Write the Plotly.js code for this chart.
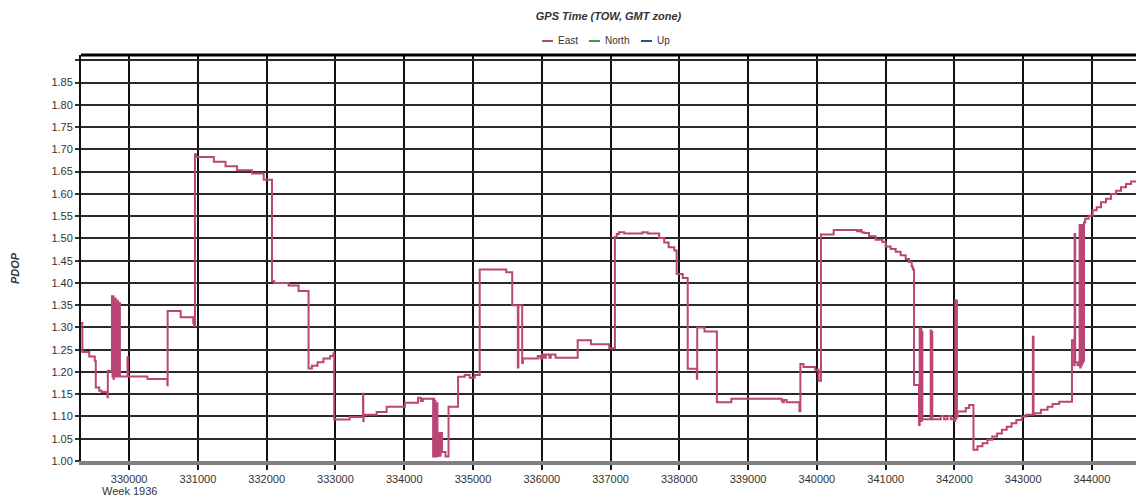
<!DOCTYPE html>
<html>
<head>
<meta charset="utf-8">
<script src="https://cdn.plot.ly/plotly-3.0.1.min.js"></script>
<style>html,body{margin:0;padding:0;background:#fff;}#chart{width:1136px;height:499px;}</style>
</head>
<body>
<div id="chart"></div>
<script>
// GPS time of week (s) and PDOP (step line)
const towSeconds = [
  329300, 329320, 329420, 329500, 329515, 329565, 329600, 329686, 329690,
  329744, 329750, 329758, 329765, 329772, 329780, 329788, 329796, 329804, 329812, 329820, 329828, 329836, 329844, 329852, 329860, 329866,
  329976, 329982, 330266, 330556, 330560, 330749, 330932, 330945, 330957, 330975,
  331232, 331401, 331570, 331787, 331957, 332077, 332110, 332319, 332464, 332609, 332657, 332739, 332826, 332923, 332971, 332981,
  333205, 333400, 333405, 333410, 333599, 333744, 334010, 334200, 334240, 334270, 334348,
  334420, 334428, 334436, 334444, 334452, 334460, 334468, 334476, 334483, 334498, 334520, 334530, 334550, 334600, 334644,
  334783, 334879, 334952, 335024, 335097, 335483, 335570, 335652, 335660, 335715, 335725,
  335942, 335980, 336000, 336030, 336060, 336110, 336130, 336200, 336522, 336715, 336981,
  337063, 337090, 337122, 337200, 337463, 337540, 337707, 337780, 337844, 337927, 337961, 338049, 338122, 338254, 338260,
  338366, 338546, 338756, 339488, 339500, 339520, 339560, 339746, 339760, 339805, 339976, 340024, 340059,
  340244, 340585, 340620, 340650, 340683, 340757, 340854, 340951, 341000, 341073, 341146, 341218, 341291, 341340, 341379, 341395, 341413,
  341485, 341495, 341503, 341511, 341519, 341527, 341534, 341655, 341662, 341670, 341678, 341800, 341850, 341898, 341947,
  342005, 342012, 342020, 342028, 342036, 342044, 342165, 342214, 342277, 342335, 342408,
  342480, 342550, 342620, 342690, 342760, 342830, 342900, 342980, 343040, 343140, 343150, 343160,
  343257, 343354, 343427, 343524, 343709, 343740, 343748, 343756, 343790,
  343820, 343828, 343836, 343844, 343852, 343860, 343868, 343876, 343884, 343900, 343950,
  344010, 344068, 344131, 344204, 344277, 344350, 344422, 344495, 344568, 344640
];
const pdopEast = [
  1.31, 1.245, 1.235, 1.225, 1.165, 1.158, 1.155, 1.143, 1.203,
  1.20, 1.37, 1.19, 1.37, 1.185, 1.365, 1.19, 1.365, 1.19, 1.36, 1.19, 1.36, 1.19, 1.355, 1.19, 1.355, 1.19,
  1.233, 1.19, 1.184, 1.17, 1.337, 1.323, 1.31, 1.303, 1.689, 1.683,
  1.672, 1.662, 1.653, 1.646, 1.632, 1.404, 1.40, 1.394, 1.382, 1.208, 1.214, 1.222, 1.23, 1.236, 1.242, 1.093,
  1.099, 1.151, 1.09, 1.104, 1.11, 1.122, 1.131, 1.142, 1.135, 1.14, 1.14,
  1.01, 1.14, 1.01, 1.135, 1.01, 1.13, 1.01, 1.13, 1.011, 1.063, 1.012, 1.063, 1.02, 1.01, 1.122,
  1.189, 1.193, 1.187, 1.193, 1.43, 1.424, 1.35, 1.21, 1.35, 1.22, 1.23,
  1.236, 1.23, 1.239, 1.232, 1.239, 1.232, 1.239, 1.232, 1.271, 1.262, 1.253,
  1.503, 1.51, 1.514, 1.511, 1.514, 1.511, 1.501, 1.491, 1.48, 1.473, 1.42, 1.411, 1.207, 1.185, 1.30,
  1.291, 1.132, 1.14, 1.136, 1.132, 1.137, 1.132, 1.112, 1.218, 1.211, 1.205, 1.18, 1.509,
  1.519, 1.516, 1.519, 1.514, 1.512, 1.505, 1.497, 1.492, 1.482, 1.476, 1.47, 1.462, 1.454, 1.447, 1.437, 1.43, 1.171,
  1.081, 1.298, 1.09, 1.298, 1.09, 1.29, 1.094, 1.293, 1.094, 1.29, 1.094, 1.101, 1.094, 1.101, 1.094,
  1.09, 1.361, 1.095, 1.36, 1.10, 1.111, 1.119, 1.126, 1.025, 1.033, 1.04,
  1.048, 1.055, 1.062, 1.07, 1.077, 1.085, 1.092, 1.10, 1.104, 1.279, 1.105, 1.107,
  1.115, 1.122, 1.128, 1.133, 1.271, 1.215, 1.51, 1.222, 1.215,
  1.53, 1.21, 1.53, 1.215, 1.53, 1.22, 1.53, 1.225, 1.536, 1.544, 1.551,
  1.563, 1.57, 1.581, 1.589, 1.60, 1.607, 1.615, 1.622, 1.628, 1.63
];
const seriesNames = ['East', 'North', 'Up'];
const seriesColors = ['#bb4675', '#3aa04a', '#2f4f8f'];
const xTickValues = [330000, 331000, 332000, 333000, 334000, 335000, 336000, 337000, 338000, 339000, 340000, 341000, 342000, 343000, 344000];
const xTickLabels = ['330000', '331000', '332000', '333000', '334000', '335000', '336000', '337000', '338000', '339000', '340000', '341000', '342000', '343000', '344000'];
const weekLabel = 'Week 1936';
const weekLabelAt = 330000;
const yTickValues = [1.00, 1.05, 1.10, 1.15, 1.20, 1.25, 1.30, 1.35, 1.40, 1.45, 1.50, 1.55, 1.60, 1.65, 1.70, 1.75, 1.80, 1.85, 1.90];
const yTickLabels = ['1.00', '1.05', '1.10', '1.15', '1.20', '1.25', '1.30', '1.35', '1.40', '1.45', '1.50', '1.55', '1.60', '1.65', '1.70', '1.75', '1.80', '1.85', ''];

const traces = [
  {x: towSeconds, y: pdopEast, name: seriesNames[0], type: 'scatter', mode: 'lines',
   line: {color: seriesColors[0], width: 2, shape: 'hv'}, showlegend: false}
];

const fontFam = '"Liberation Sans", Arial, sans-serif';
// plot area in pixels: left 81, right 1136, top 55, bottom 461
const plotL = 81, plotW = 1055, plotT = 55, plotH = 406;
const px2x = p => (p - plotL) / plotW;
const px2y = p => (plotT + plotH - p) / plotH;

// compact legend drawn above the plot (short line samples like the reference)
const legendSampleLeft = [542, 589, 641];
const legendY = 41;
const shapes = [
  {type: 'line', xref: 'paper', yref: 'paper', x0: 0, x1: 1, y0: 1, y1: 1, line: {color: '#000', width: 3}}
];
const annotations = [];
seriesNames.forEach((nm, i) => {
  const s = legendSampleLeft[i];
  shapes.push({type: 'line', xref: 'paper', yref: 'paper', x0: px2x(s), x1: px2x(s + 11), y0: px2y(legendY), y1: px2y(legendY),
               line: {color: seriesColors[i], width: 2}});
  annotations.push({xref: 'paper', yref: 'paper', x: px2x(s + 14), y: px2y(legendY), xanchor: 'left', yanchor: 'middle',
                    text: nm, showarrow: false, font: {family: fontFam, size: 10, color: '#333'}});
});
annotations.push({xref: 'x', yref: 'paper', x: weekLabelAt, y: px2y(491), xanchor: 'center', yanchor: 'middle',
                  text: weekLabel, showarrow: false, font: {family: fontFam, size: 11, color: '#333'}});
annotations.push({xref: 'paper', yref: 'paper', x: px2x(15), y: px2y(268), xanchor: 'center', yanchor: 'middle',
                  text: '<b><i>PDOP</i></b>', textangle: -90, showarrow: false, font: {family: fontFam, size: 11, color: '#333'}});

const layout = {
  width: 1136, height: 499,
  margin: {l: 81, r: 0, t: 55, b: 38},
  paper_bgcolor: '#ffffff', plot_bgcolor: '#ffffff',
  font: {family: fontFam, size: 11, color: '#333'},
  title: {text: '<b><i>GPS Time (TOW, GMT zone)</i></b>', font: {family: fontFam, size: 11, color: '#333'},
          x: 0.5, xref: 'paper', xanchor: 'center', y: 1 - 16/499, yref: 'container', yanchor: 'middle'},
  showlegend: false,
  xaxis: {range: [329300, 344640], tickmode: 'array', tickvals: xTickValues, ticktext: xTickLabels,
          showgrid: true, gridcolor: '#111', gridwidth: 1.5, zeroline: false,
          showline: true, linecolor: '#808080', linewidth: 4,
          ticks: 'outside', ticklen: 5, tickcolor: '#111', tickwidth: 1.5, ticklabelstandoff: 0,
          tickfont: {family: fontFam, size: 11, color: '#333'}},
  yaxis: {range: [1.0, 1.912], tickmode: 'array', tickvals: yTickValues, ticktext: yTickLabels,
          showgrid: true, gridcolor: '#2a2a2a', gridwidth: 1.5, zeroline: false,
          showline: true, linecolor: '#111', linewidth: 2,
          ticks: 'outside', ticklen: 4, tickcolor: '#333', tickwidth: 1.5,
          tickfont: {family: fontFam, size: 11, color: '#333'}},
  shapes: shapes,
  annotations: annotations
};
Plotly.newPlot('chart', traces, layout, {displayModeBar: false, responsive: false});
</script>
</body>
</html>
